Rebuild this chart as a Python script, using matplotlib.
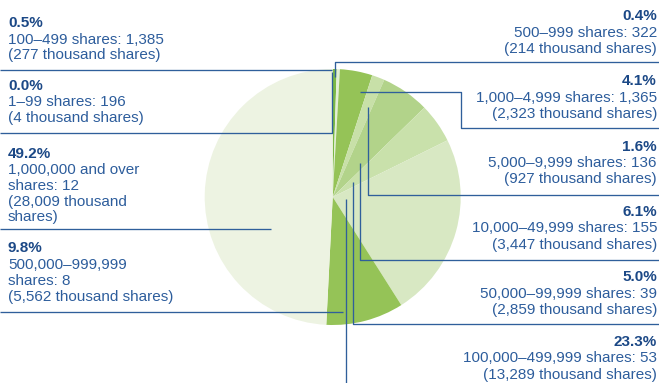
import matplotlib
matplotlib.use("Agg")
import matplotlib.pyplot as plt

# ---- data (clockwise from 12 o'clock) ----
pcts = [0.0, 0.5, 0.4, 4.1, 1.6, 6.1, 5.0, 23.3, 9.8, 49.2]
ranges = ["1–99 shares: 196", "100–499 shares: 1,385", "500–999 shares: 322",
          "1,000–4,999 shares: 1,365", "5,000–9,999 shares: 136",
          "10,000–49,999 shares: 155", "50,000–99,999 shares: 39",
          "100,000–499,999 shares: 53", "500,000–999,999\nshares: 8",
          "1,000,000 and over\nshares: 12"]
thousands = ["4", "277", "214", "2,323", "927", "3,447", "2,859", "13,289", "5,562", "28,009"]
colors = ["#d9e9c6", "#7bb845", "#e3efd6", "#95c357", "#c8e0a8", "#b2d38a",
          "#c9e1ab", "#d8e8c3", "#95c357", "#edf3e2"]

W, H = 659, 383
fig = plt.figure(figsize=(W / 100, H / 100), dpi=100)
ax = fig.add_axes([0, 0, 1, 1])

def Y(y):
    return H - y

ax.pie(pcts, colors=colors, startangle=90, counterclock=False,
       center=(332.7, Y(197)), radius=128, frame=True,
       wedgeprops=dict(linewidth=0))
ax.set_xlim(0, W)
ax.set_ylim(0, H)
ax.set_aspect("equal")
ax.axis("off")

LC = "#2f5f9b"
LW = 0.95
TB = "#1b4886"
TN = "#2d5d9c"
FS = 11
FAM = ["Liberation Sans", "DejaVu Sans"]

def line(pts):
    xs = [p[0] for p in pts]
    ys = [Y(p[1]) for p in pts]
    ax.plot(xs, ys, color=LC, lw=LW, solid_capstyle="butt")

def block(x, ys, idx, ha):
    lines_txt = [f"{pcts[idx]:.1f}%"]
    body = ranges[idx].split("\n")
    th = f"({thousands[idx]} thousand shares)"
    if idx == 9:
        body = body + [f"({thousands[idx]} thousand", "shares)"]
    else:
        body = body + [th]
    for k, (t, y) in enumerate(zip(lines_txt + body, ys)):
        ax.text(x, Y(y), t, ha=ha, va="center", fontsize=FS, family=FAM,
                color=TB if k == 0 else TN, fontweight="bold" if k == 0 else "normal")

# left labels
block(8, [23, 39.5, 55.5], 1, "left")
block(8, [86, 102, 118], 0, "left")
block(8, [154, 170, 186, 202, 217.5], 9, "left")
block(8, [248.5, 265, 281, 297], 8, "left")
# right labels
block(657, [16.5, 33, 49.5], 2, "right")
block(657, [81, 97.5, 114], 3, "right")
block(657, [147, 163, 179], 4, "right")
block(657, [212.5, 228.5, 244.5], 5, "right")
block(657, [277, 293.5, 310], 6, "right")
block(657, [342.5, 358.5, 375], 7, "right")

# leader lines / separators
line([(0, 70), (332, 70)])
line([(0, 133), (332, 133), (332, 72)])
line([(0, 229), (271, 229)])
line([(0, 312.3), (343, 312.3)])
line([(335, 77), (335, 62), (W, 62)])
line([(360, 92), (461, 92), (461, 128), (W, 128)])
line([(368, 107), (368, 195), (W, 195)])
line([(360, 163), (360, 260), (W, 260)])
line([(353, 182), (353, 324), (W, 324)])
line([(346, 199), (346, H)])

fig.savefig("out.png", dpi=100)
